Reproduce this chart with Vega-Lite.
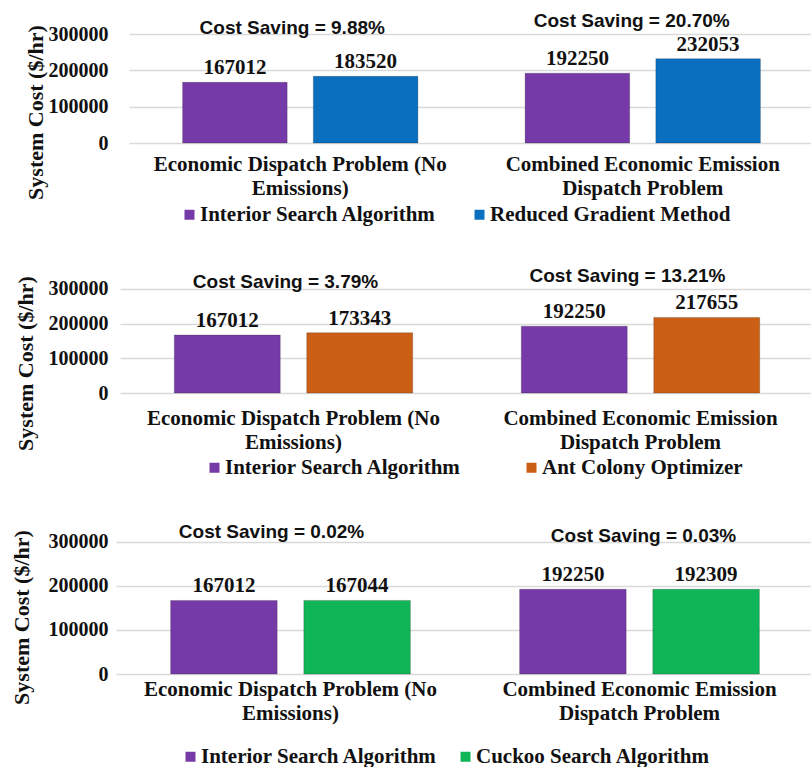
{
  "$schema": "https://vega.github.io/schema/vega-lite/v6.json",
  "padding": {"left": 9, "top": 5, "right": 0, "bottom": 0},
  "background": "white",
  "spacing": 118,
  "bounds": "flush",
  "datasets": {
    "costs": [
      {"panel": "A", "problem": "Economic Dispatch Problem (No Emissions)", "method": "Interior Search Algorithm", "cost": 167012},
      {"panel": "A", "problem": "Economic Dispatch Problem (No Emissions)", "method": "Reduced Gradient Method", "cost": 183520},
      {"panel": "A", "problem": "Combined Economic Emission Dispatch Problem", "method": "Interior Search Algorithm", "cost": 192250},
      {"panel": "A", "problem": "Combined Economic Emission Dispatch Problem", "method": "Reduced Gradient Method", "cost": 232053},
      {"panel": "B", "problem": "Economic Dispatch Problem (No Emissions)", "method": "Interior Search Algorithm", "cost": 167012},
      {"panel": "B", "problem": "Economic Dispatch Problem (No Emissions)", "method": "Ant Colony Optimizer", "cost": 173343},
      {"panel": "B", "problem": "Combined Economic Emission Dispatch Problem", "method": "Interior Search Algorithm", "cost": 192250},
      {"panel": "B", "problem": "Combined Economic Emission Dispatch Problem", "method": "Ant Colony Optimizer", "cost": 217655},
      {"panel": "C", "problem": "Economic Dispatch Problem (No Emissions)", "method": "Interior Search Algorithm", "cost": 167012},
      {"panel": "C", "problem": "Economic Dispatch Problem (No Emissions)", "method": "Cuckoo Search Algorithm", "cost": 167044},
      {"panel": "C", "problem": "Combined Economic Emission Dispatch Problem", "method": "Interior Search Algorithm", "cost": 192250},
      {"panel": "C", "problem": "Combined Economic Emission Dispatch Problem", "method": "Cuckoo Search Algorithm", "cost": 192309}
    ],
    "notes": [
      {"panel": "A", "problem": "Economic Dispatch Problem (No Emissions)", "note": "Cost Saving = 9.88%"},
      {"panel": "A", "problem": "Combined Economic Emission Dispatch Problem", "note": "Cost Saving = 20.70%"},
      {"panel": "B", "problem": "Economic Dispatch Problem (No Emissions)", "note": "Cost Saving = 3.79%"},
      {"panel": "B", "problem": "Combined Economic Emission Dispatch Problem", "note": "Cost Saving = 13.21%"},
      {"panel": "C", "problem": "Economic Dispatch Problem (No Emissions)", "note": "Cost Saving = 0.02%"},
      {"panel": "C", "problem": "Combined Economic Emission Dispatch Problem", "note": "Cost Saving = 0.03%"}
    ]
  },
  "resolve": {
    "scale": {"x": "independent", "y": "independent", "xOffset": "independent", "color": "independent"},
    "legend": {"color": "independent"},
    "axis": {"x": "independent", "y": "independent"}
  },
  "vconcat": [
    {
      "width": 698,
      "height": 138,
      "layer": [
        {
          "data": {"name": "costs"},
          "transform": [{"filter": "datum.panel == 'A'"}],
          "mark": {"type": "bar", "stroke": "#000000", "strokeOpacity": 0.2, "strokeWidth": 1},
          "encoding": {
            "x": {"field": "problem", "type": "nominal", "sort": ["Economic Dispatch Problem (No Emissions)", "Combined Economic Emission Dispatch Problem"],
                  "scale": {"range": [13, 698], "paddingInner": 0, "paddingOuter": 0},
                  "axis": {"title": null, "labelPadding": 10, "labelExpr": "datum.value == 'Economic Dispatch Problem (No Emissions)' ? ['Economic Dispatch Problem (No', 'Emissions)'] : ['Combined Economic Emission', 'Dispatch Problem']"}},
            "xOffset": {"field": "method", "type": "nominal", "sort": ["Interior Search Algorithm", "Reduced Gradient Method"], "scale": {"paddingInner": 0.2, "paddingOuter": 0.41}},
            "y": {"field": "cost", "type": "quantitative", "scale": {"domain": [0, 380000], "nice": false},
                  "axis": {"title": "System Cost ($/hr)", "titleX": -69, "titleY": 107}},
            "color": {"field": "method", "type": "nominal",
                      "scale": {"domain": ["Interior Search Algorithm", "Reduced Gradient Method"], "range": ["#763AA8", "#0B6FC0"]},
                      "legend": {"orient": "none", "legendX": 63, "legendY": 199, "columnPadding": 32}}
          }
        },
        {
          "data": {"name": "costs"},
          "transform": [{"filter": "datum.panel == 'A'"}],
          "mark": {"type": "text", "baseline": "alphabetic", "dy": -8, "font": "Liberation Serif", "fontSize": 21, "fontWeight": "bold", "color": "#111111"},
          "encoding": {
            "x": {"field": "problem", "type": "nominal", "sort": ["Economic Dispatch Problem (No Emissions)", "Combined Economic Emission Dispatch Problem"]},
            "xOffset": {"field": "method", "type": "nominal", "sort": ["Interior Search Algorithm", "Reduced Gradient Method"]},
            "y": {"field": "cost", "type": "quantitative"},
            "text": {"field": "cost", "type": "quantitative", "format": "d"}
          }
        },
        {
          "data": {"name": "notes"},
          "transform": [{"filter": "datum.panel == 'A' && datum.problem == 'Economic Dispatch Problem (No Emissions)'"}],
          "mark": {"type": "text", "baseline": "middle", "dx": -8, "font": "Liberation Sans", "fontSize": 19, "fontWeight": "bold", "color": "#111111"},
          "encoding": {
            "x": {"field": "problem", "type": "nominal", "sort": ["Economic Dispatch Problem (No Emissions)", "Combined Economic Emission Dispatch Problem"]},
            "y": {"datum": 316000, "type": "quantitative"},
            "text": {"field": "note", "type": "nominal"}
          }
        },
        {
          "data": {"name": "notes"},
          "transform": [{"filter": "datum.panel == 'A' && datum.problem == 'Combined Economic Emission Dispatch Problem'"}],
          "mark": {"type": "text", "baseline": "middle", "dx": -11, "font": "Liberation Sans", "fontSize": 19, "fontWeight": "bold", "color": "#111111"},
          "encoding": {
            "x": {"field": "problem", "type": "nominal", "sort": ["Economic Dispatch Problem (No Emissions)", "Combined Economic Emission Dispatch Problem"]},
            "y": {"datum": 336000, "type": "quantitative"},
            "text": {"field": "note", "type": "nominal"}
          }
        }
      ]
    },
    {
      "width": 698,
      "height": 132,
      "layer": [
        {
          "data": {"name": "costs"},
          "transform": [{"filter": "datum.panel == 'B'"}],
          "mark": {"type": "bar", "stroke": "#000000", "strokeOpacity": 0.2, "strokeWidth": 1},
          "encoding": {
            "x": {"field": "problem", "type": "nominal", "sort": ["Economic Dispatch Problem (No Emissions)", "Combined Economic Emission Dispatch Problem"],
                  "scale": {"range": [4, 698], "paddingInner": 0, "paddingOuter": 0},
                  "axis": {"title": null, "labelPadding": 14, "labelExpr": "datum.value == 'Economic Dispatch Problem (No Emissions)' ? ['Economic Dispatch Problem (No', 'Emissions)'] : ['Combined Economic Emission', 'Dispatch Problem']"}},
            "xOffset": {"field": "method", "type": "nominal", "sort": ["Interior Search Algorithm", "Ant Colony Optimizer"], "scale": {"paddingInner": 0.2, "paddingOuter": 0.41}},
            "y": {"field": "cost", "type": "quantitative", "scale": {"domain": [0, 380000], "nice": false},
                  "axis": {"title": "System Cost ($/hr)", "titleX": -79, "titleY": 102}},
            "color": {"field": "method", "type": "nominal",
                      "scale": {"domain": ["Interior Search Algorithm", "Ant Colony Optimizer"], "range": ["#763AA8", "#CC5F16"]},
                      "legend": {"orient": "none", "legendX": 88, "legendY": 196, "columnPadding": 59}}
          }
        },
        {
          "data": {"name": "costs"},
          "transform": [{"filter": "datum.panel == 'B'"}],
          "mark": {"type": "text", "baseline": "alphabetic", "dy": -8, "font": "Liberation Serif", "fontSize": 21, "fontWeight": "bold", "color": "#111111"},
          "encoding": {
            "x": {"field": "problem", "type": "nominal", "sort": ["Economic Dispatch Problem (No Emissions)", "Combined Economic Emission Dispatch Problem"]},
            "xOffset": {"field": "method", "type": "nominal", "sort": ["Interior Search Algorithm", "Ant Colony Optimizer"]},
            "y": {"field": "cost", "type": "quantitative"},
            "text": {"field": "cost", "type": "quantitative", "format": "d"}
          }
        },
        {
          "data": {"name": "notes"},
          "transform": [{"filter": "datum.panel == 'B' && datum.problem == 'Economic Dispatch Problem (No Emissions)'"}],
          "mark": {"type": "text", "baseline": "middle", "dx": -8, "font": "Liberation Sans", "fontSize": 19, "fontWeight": "bold", "color": "#111111"},
          "encoding": {
            "x": {"field": "problem", "type": "nominal", "sort": ["Economic Dispatch Problem (No Emissions)", "Combined Economic Emission Dispatch Problem"]},
            "y": {"datum": 319500, "type": "quantitative"},
            "text": {"field": "note", "type": "nominal"}
          }
        },
        {
          "data": {"name": "notes"},
          "transform": [{"filter": "datum.panel == 'B' && datum.problem == 'Combined Economic Emission Dispatch Problem'"}],
          "mark": {"type": "text", "baseline": "middle", "dx": -13, "font": "Liberation Sans", "fontSize": 19, "fontWeight": "bold", "color": "#111111"},
          "encoding": {
            "x": {"field": "problem", "type": "nominal", "sort": ["Economic Dispatch Problem (No Emissions)", "Combined Economic Emission Dispatch Problem"]},
            "y": {"datum": 336800, "type": "quantitative"},
            "text": {"field": "note", "type": "nominal"}
          }
        }
      ]
    },
    {
      "width": 698,
      "height": 163,
      "layer": [
        {
          "data": {"name": "costs"},
          "transform": [{"filter": "datum.panel == 'C'"}],
          "mark": {"type": "bar", "stroke": "#000000", "strokeOpacity": 0.2, "strokeWidth": 1},
          "encoding": {
            "x": {"field": "problem", "type": "nominal", "sort": ["Economic Dispatch Problem (No Emissions)", "Combined Economic Emission Dispatch Problem"],
                  "scale": {"range": [0, 698], "paddingInner": 0, "paddingOuter": 0},
                  "axis": {"title": null, "labelPadding": 4, "labelExpr": "datum.value == 'Economic Dispatch Problem (No Emissions)' ? ['Economic Dispatch Problem (No', 'Emissions)'] : ['Combined Economic Emission', 'Dispatch Problem']"}},
            "xOffset": {"field": "method", "type": "nominal", "sort": ["Interior Search Algorithm", "Cuckoo Search Algorithm"], "scale": {"paddingInner": 0.2, "paddingOuter": 0.41}},
            "y": {"field": "cost", "type": "quantitative", "scale": {"domain": [0, 370000], "nice": false},
                  "axis": {"title": "System Cost ($/hr)", "titleX": -83, "titleY": 106}},
            "color": {"field": "method", "type": "nominal",
                      "scale": {"domain": ["Interior Search Algorithm", "Cuckoo Search Algorithm"], "range": ["#763AA8", "#10B558"]},
                      "legend": {"orient": "none", "legendX": 64, "legendY": 235, "columnPadding": 17}}
          }
        },
        {
          "data": {"name": "costs"},
          "transform": [{"filter": "datum.panel == 'C'"}],
          "mark": {"type": "text", "baseline": "alphabetic", "dy": -8, "font": "Liberation Serif", "fontSize": 21, "fontWeight": "bold", "color": "#111111"},
          "encoding": {
            "x": {"field": "problem", "type": "nominal", "sort": ["Economic Dispatch Problem (No Emissions)", "Combined Economic Emission Dispatch Problem"]},
            "xOffset": {"field": "method", "type": "nominal", "sort": ["Interior Search Algorithm", "Cuckoo Search Algorithm"]},
            "y": {"field": "cost", "type": "quantitative"},
            "text": {"field": "cost", "type": "quantitative", "format": "d"}
          }
        },
        {
          "data": {"name": "notes"},
          "transform": [{"filter": "datum.panel == 'C' && datum.problem == 'Economic Dispatch Problem (No Emissions)'"}],
          "mark": {"type": "text", "baseline": "middle", "dx": -19, "font": "Liberation Sans", "fontSize": 19, "fontWeight": "bold", "color": "#111111"},
          "encoding": {
            "x": {"field": "problem", "type": "nominal", "sort": ["Economic Dispatch Problem (No Emissions)", "Combined Economic Emission Dispatch Problem"]},
            "y": {"datum": 322400, "type": "quantitative"},
            "text": {"field": "note", "type": "nominal"}
          }
        },
        {
          "data": {"name": "notes"},
          "transform": [{"filter": "datum.panel == 'C' && datum.problem == 'Combined Economic Emission Dispatch Problem'"}],
          "mark": {"type": "text", "baseline": "middle", "dx": 4, "font": "Liberation Sans", "fontSize": 19, "fontWeight": "bold", "color": "#111111"},
          "encoding": {
            "x": {"field": "problem", "type": "nominal", "sort": ["Economic Dispatch Problem (No Emissions)", "Combined Economic Emission Dispatch Problem"]},
            "y": {"datum": 313300, "type": "quantitative"},
            "text": {"field": "note", "type": "nominal"}
          }
        }
      ]
    }
  ],
  "config": {
    "view": {"stroke": null},
    "font": "Liberation Serif",
    "axisX": {"domain": false, "ticks": false, "grid": false, "labelAngle": 0, "labelFont": "Liberation Serif", "labelFontSize": 21, "labelFontWeight": "bold", "labelColor": "#111111", "labelLineHeight": 24, "labelLimit": 400, "labelBaseline": "top"},
    "axisY": {"domain": false, "ticks": false, "grid": true, "gridColor": "#d9d9d9", "gridWidth": 1.5, "values": [0, 100000, 200000, 300000], "format": "d",
              "labelFont": "Liberation Serif", "labelFontSize": 20, "labelFontWeight": "bold", "labelColor": "#111111", "labelPadding": 8,
              "titleFont": "Liberation Serif", "titleFontSize": 22, "titleFontWeight": "bold", "titleColor": "#111111", "titleAngle": -90, "titleBaseline": "bottom", "titleAlign": "center"},
    "legend": {"direction": "horizontal", "title": null, "symbolType": "square", "symbolSize": 100, "symbolStrokeWidth": 0, "symbolOpacity": 1,
               "labelFont": "Liberation Serif", "labelFontSize": 21, "labelFontWeight": "bold", "labelColor": "#111111", "labelLimit": 400, "labelOffset": 0, "padding": 0, "rowPadding": 0}
  }
}
